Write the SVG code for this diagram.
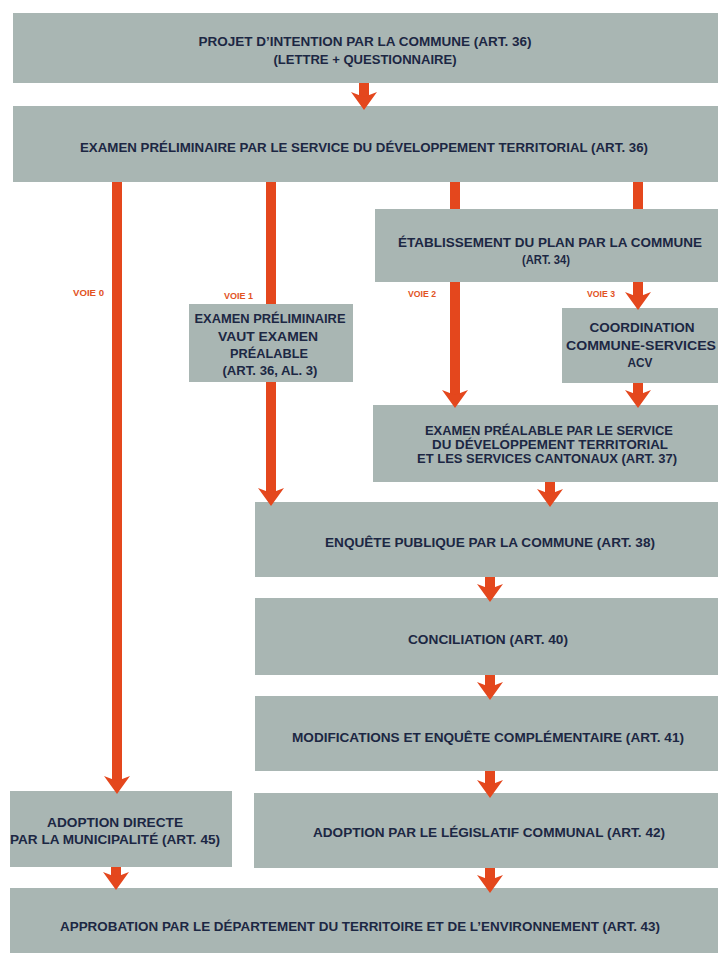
<svg xmlns="http://www.w3.org/2000/svg" width="718" height="953" viewBox="0 0 718 953">
<style>
.box{fill:#a9b6b3}
.t{font-family:"Liberation Sans",Arial,sans-serif;font-weight:bold;font-size:12.5px;fill:#1c2743;text-anchor:middle}
.v{font-family:"Liberation Sans",Arial,sans-serif;font-weight:bold;font-size:8.5px;fill:#e2531f}
.c{stroke:#e4471d;stroke-width:10;fill:none;marker-end:url(#head)}
.s{stroke:#e4471d;stroke-width:10;fill:none}
</style>
<defs>
<marker id="head" markerUnits="userSpaceOnUse" markerWidth="18" markerHeight="26" viewBox="0 0 18 26" refX="5" refY="13" orient="auto">
<path d="M0,0 L18,13 L0,26 L5,13 z" fill="#e4471d"/>
</marker>
</defs>
<rect width="718" height="953" fill="#ffffff"/>
<g id="n1">
<rect class="box" x="13" y="13" width="705" height="70"/>
<text class="t" x="365" y="45.5" textLength="333" lengthAdjust="spacingAndGlyphs">PROJET D’INTENTION PAR LA COMMUNE (ART. 36)</text>
<text class="t" x="365" y="63.5" textLength="183" lengthAdjust="spacingAndGlyphs">(LETTRE + QUESTIONNAIRE)</text>
</g>
<g id="n2">
<rect class="box" x="13" y="106" width="705" height="76"/>
<text class="t" x="364" y="151.5" textLength="568" lengthAdjust="spacingAndGlyphs">EXAMEN PRÉLIMINAIRE PAR LE SERVICE DU DÉVELOPPEMENT TERRITORIAL (ART. 36)</text>
</g>
<g id="n3">
<rect class="box" x="375" y="209" width="343" height="73"/>
<text class="t" x="550" y="246.5" textLength="304" lengthAdjust="spacingAndGlyphs">ÉTABLISSEMENT DU PLAN PAR LA COMMUNE</text>
<text class="t" x="546" y="263.5" textLength="48" lengthAdjust="spacingAndGlyphs">(ART. 34)</text>
</g>
<g id="n_voie1">
<rect class="box" x="189" y="304" width="164" height="78"/>
<text class="t" x="270" y="322.5" textLength="151" lengthAdjust="spacingAndGlyphs">EXAMEN PRÉLIMINAIRE</text>
<text class="t" x="268" y="340.5" textLength="100" lengthAdjust="spacingAndGlyphs">VAUT EXAMEN</text>
<text class="t" x="269" y="357.5" textLength="78" lengthAdjust="spacingAndGlyphs">PRÉALABLE</text>
<text class="t" x="270" y="374.5" textLength="95" lengthAdjust="spacingAndGlyphs">(ART. 36, AL. 3)</text>
</g>
<g id="n_coord">
<rect class="box" x="562" y="308" width="156" height="75"/>
<text class="t" x="642" y="331.5" textLength="105" lengthAdjust="spacingAndGlyphs">COORDINATION</text>
<text class="t" x="641" y="349.5" textLength="150" lengthAdjust="spacingAndGlyphs">COMMUNE-SERVICES</text>
<text class="t" x="640" y="366.5" textLength="25" lengthAdjust="spacingAndGlyphs">ACV</text>
</g>
<g id="n4">
<rect class="box" x="373" y="405" width="345" height="77"/>
<text class="t" x="549" y="434.5" textLength="248" lengthAdjust="spacingAndGlyphs">EXAMEN PRÉALABLE PAR LE SERVICE</text>
<text class="t" x="550" y="448.5" textLength="236" lengthAdjust="spacingAndGlyphs">DU DÉVELOPPEMENT TERRITORIAL</text>
<text class="t" x="547" y="462.5" textLength="260" lengthAdjust="spacingAndGlyphs">ET LES SERVICES CANTONAUX (ART. 37)</text>
</g>
<g id="n5">
<rect class="box" x="255" y="502" width="463" height="75"/>
<text class="t" x="490" y="546.5" textLength="330" lengthAdjust="spacingAndGlyphs">ENQUÊTE PUBLIQUE PAR LA COMMUNE (ART. 38)</text>
</g>
<g id="n6">
<rect class="box" x="255" y="598" width="463" height="77"/>
<text class="t" x="488" y="643.5" textLength="160" lengthAdjust="spacingAndGlyphs">CONCILIATION (ART. 40)</text>
</g>
<g id="n7">
<rect class="box" x="255" y="696" width="463" height="75"/>
<text class="t" x="488" y="741.5" textLength="392" lengthAdjust="spacingAndGlyphs">MODIFICATIONS ET ENQUÊTE COMPLÉMENTAIRE (ART. 41)</text>
</g>
<g id="n_adoption_directe">
<rect class="box" x="10" y="791" width="222" height="76"/>
<text class="t" x="115" y="826.5" textLength="136" lengthAdjust="spacingAndGlyphs">ADOPTION DIRECTE</text>
<text class="t" x="115" y="843.5" textLength="210" lengthAdjust="spacingAndGlyphs">PAR LA MUNICIPALITÉ (ART. 45)</text>
</g>
<g id="n8">
<rect class="box" x="254" y="793" width="464" height="75"/>
<text class="t" x="489" y="836.5" textLength="352" lengthAdjust="spacingAndGlyphs">ADOPTION PAR LE LÉGISLATIF COMMUNAL (ART. 42)</text>
</g>
<g id="n9">
<rect class="box" x="10" y="888" width="708" height="65"/>
<text class="t" x="360" y="930.5" textLength="600" lengthAdjust="spacingAndGlyphs">APPROBATION PAR LE DÉPARTEMENT DU TERRITOIRE ET DE L’ENVIRONNEMENT (ART. 43)</text>
</g>
<g id="connectors">
<path class="c" d="M364,83 V97"/>
<path class="c" d="M117,182 V781"/>
<path class="s" d="M271,182 V304"/>
<path class="c" d="M271,382 V493"/>
<path class="s" d="M455,182 V209"/>
<path class="c" d="M455,282 V395"/>
<path class="s" d="M638,182 V209"/>
<path class="c" d="M638,282 V297"/>
<path class="c" d="M638,383 V395"/>
<path class="c" d="M550,482 V494"/>
<path class="c" d="M490,577 V589"/>
<path class="c" d="M490,675 V687"/>
<path class="c" d="M490,771 V785"/>
<path class="c" d="M116,867 V877"/>
<path class="c" d="M490,868 V880"/>
<text class="v" x="73" y="296" textLength="31" lengthAdjust="spacingAndGlyphs">VOIE 0</text>
<text class="v" x="224" y="299" textLength="29" lengthAdjust="spacingAndGlyphs">VOIE 1</text>
<text class="v" x="408" y="297" textLength="28" lengthAdjust="spacingAndGlyphs">VOIE 2</text>
<text class="v" x="587" y="297" textLength="28" lengthAdjust="spacingAndGlyphs">VOIE 3</text>
</g>
</svg>
